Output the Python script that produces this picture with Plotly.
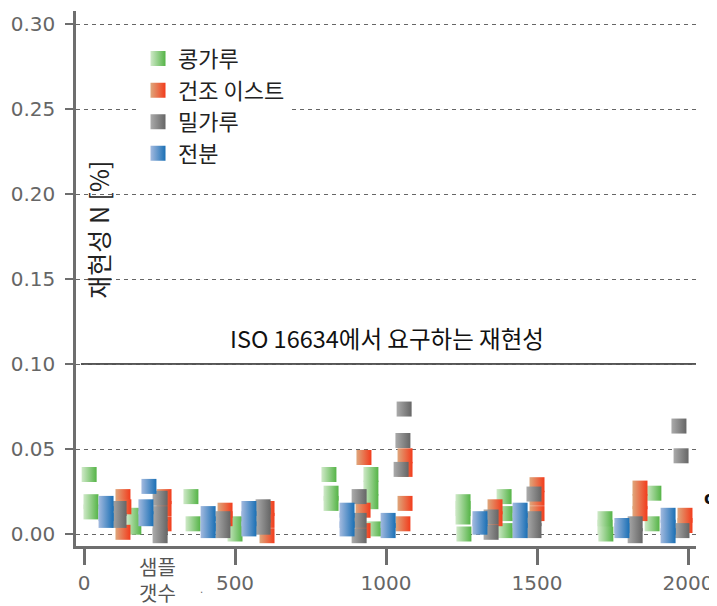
import plotly.graph_objects as go

# ---- data ----
series_names = ["콩가루", "건조 이스트", "밀가루", "전분"]

green_x = [17, 23, 23, 165, 165, 354, 361, 500, 500, 811, 818, 818, 950, 950, 950, 960,
           1255, 1255, 1255, 1258, 1391, 1395, 1395, 1725, 1725, 1728, 1887, 1881]
green_y = [0.035, 0.019, 0.013, 0.011, 0.004, 0.022, 0.006, 0.006, 0.000, 0.035, 0.024, 0.018,
           0.035, 0.027, 0.019, 0.003, 0.019, 0.015, 0.010, 0.000, 0.022, 0.012, 0.002,
           0.009, 0.004, 0.000, 0.024, 0.006]

orange_x = [129, 132, 129, 265, 265, 265, 467, 467, 606, 606, 606, 927, 924, 924,
            1063, 1063, 1063, 1056, 1361, 1361, 1500, 1500, 1500, 1841, 1841, 1841, 1990, 1990]
orange_y = [0.022, 0.016, 0.001, 0.022, 0.015, 0.006, 0.014, 0.009, 0.015, 0.008, -0.001,
            0.045, 0.014, 0.002, 0.046, 0.038, 0.018, 0.006, 0.016, 0.009,
            0.029, 0.021, 0.012, 0.027, 0.019, 0.012, 0.011, 0.005]

gray_x = [116, 116, 252, 252, 252, 252, 460, 460, 593, 593, 593, 911, 911, 911,
          1060, 1056, 1050, 1348, 1348, 1490, 1490, 1490, 1825, 1825, 1970, 1977, 1980]
gray_y = [0.015, 0.008, 0.021, 0.012, 0.004, -0.001, 0.009, 0.002, 0.016, 0.011, 0.004,
          0.022, 0.008, -0.001, 0.0735, 0.055, 0.038, 0.010, 0.001,
          0.0235, 0.009, 0.002, 0.006, -0.001, 0.0635, 0.046, 0.002]

blue_x = [73, 73, 73, 215, 205, 205, 411, 411, 411, 546, 546, 546, 871, 871, 871,
          1007, 1007, 1311, 1311, 1444, 1444, 1444, 1781, 1781, 1934, 1934, 1934]
blue_y = [0.018, 0.012, 0.008, 0.028, 0.016, 0.009, 0.012, 0.006, 0.002, 0.015, 0.009, 0.003,
          0.014, 0.008, 0.003, 0.008, 0.002, 0.009, 0.004, 0.014, 0.008, 0.002,
          0.005, 0.002, 0.011, 0.004, -0.001]

x_ticks = [0, 500, 1000, 1500, 2000]
x_tick_labels = ["0", "500", "1000", "1500", "2000"]
y_ticks = [0.00, 0.05, 0.10, 0.15, 0.20, 0.25, 0.30]
y_tick_labels = ["0.00", "0.05", "0.10", "0.15", "0.20", "0.25", "0.30"]
iso_limit = 0.10

# ---- styles ----
KR = "Noto Sans CJK KR"
NUM = "DejaVu Sans"
light_colors = ["#cfe9c8", "#dfa77c", "#ababab", "#a3badf"]
dark_colors = ["#55b447", "#f23c1c", "#666666", "#1b70b5"]

xs = [green_x, orange_x, gray_x, blue_x]
ys = [green_y, orange_y, gray_y, blue_y]

fig = go.Figure()
for name, x, y, c1, c2 in zip(series_names, xs, ys, light_colors, dark_colors):
    fig.add_trace(go.Scatter(
        x=x, y=y, mode="markers", name=name,
        marker=dict(symbol="square", size=15, color=c1,
                    gradient=dict(type="horizontal", color=c2),
                    line=dict(width=0)),
    ))

fig.update_layout(
    width=717, height=606,
    margin=dict(l=68, r=29, t=3, b=68),
    paper_bgcolor="white", plot_bgcolor="white",
    showlegend=True,
    legend=dict(x=0.1, y=0.95, xanchor="left", yanchor="top",
                bgcolor="white", font=dict(family=KR, size=22, color="#222"),
                itemsizing="trace", tracegroupgap=0),
    xaxis=dict(range=[-26.5, 2026.5], tickvals=x_ticks, ticktext=x_tick_labels,
               showgrid=False, zeroline=False, showline=True,
               linecolor="#6e6e6e", linewidth=2.5,
               ticks="outside", ticklen=16, tickwidth=2.5, tickcolor="#6e6e6e",
               tickfont=dict(family=NUM, size=20, color="#666"),
               ticklabelstandoff=1),
    yaxis=dict(range=[-0.00706, 0.30765], tickvals=y_ticks, ticktext=y_tick_labels,
               showgrid=True, gridcolor="#666", gridwidth=1, griddash="4px,4px",
               zeroline=False, showline=True,
               linecolor="#6e6e6e", linewidth=2.5,
               ticks="outside", ticklen=8, tickwidth=2, tickcolor="#6e6e6e",
               tickfont=dict(family=NUM, size=20, color="#666"),
               ticklabelstandoff=6),
    shapes=[
        dict(type="line", xref="paper", yref="y", x0=0.008, x1=1, y0=iso_limit, y1=iso_limit,
             line=dict(color="#555", width=2), layer="between"),
        dict(type="rect", xref="paper", yref="paper", x0=0.003, x1=0.0855, y0=0.42, y1=0.785,
             fillcolor="white", line=dict(width=0), layer="between"),
    ],
    annotations=[
        dict(text="ISO 16634에서 요구하는 재현성", xref="paper", yref="y",
             x=0.5016, y=0.1153, xanchor="center", yanchor="middle", showarrow=False,
             font=dict(family=KR, size=23.5, color="#111")),
        dict(text="재현성 N [%]", xref="paper", yref="paper", x=0.035, y=0.5907,
             xanchor="center", yanchor="middle", textangle=-90, showarrow=False,
             font=dict(family=KR, size=25, color="#222")),
        dict(text="샘플<br>갯수", xref="paper", yref="paper", x=0.132, y=-0.0626,
             xanchor="center", yanchor="middle", showarrow=False,
             font=dict(family=KR, size=20, color="#555")),
        dict(text=".", xref="paper", yref="paper", x=0.203, y=-0.082,
             xanchor="center", yanchor="middle", showarrow=False,
             font=dict(family=NUM, size=10, color="#666")),
        dict(text="<b>o</b>", xref="paper", yref="paper", x=1.023, y=0.09,
             xanchor="center", yanchor="middle", showarrow=False,
             font=dict(family=NUM, size=17, color="#111")),
    ],
)

fig.write_html("out.html")
